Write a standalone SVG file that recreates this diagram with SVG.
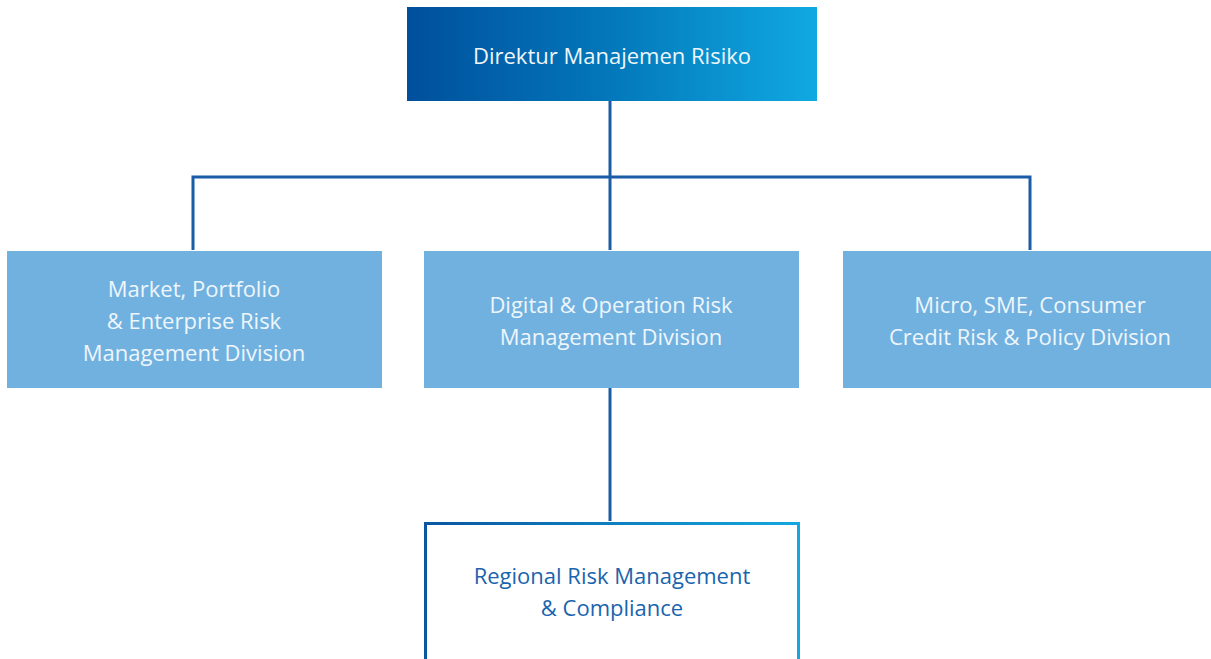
<svg xmlns="http://www.w3.org/2000/svg" width="1211" height="659" viewBox="0 0 1211 659">
<defs>
<linearGradient id="gTop" x1="0" y1="0" x2="1" y2="0">
<stop offset="0" stop-color="#004f9c"/>
<stop offset="0.5" stop-color="#0378bb"/>
<stop offset="1" stop-color="#10a9e1"/>
</linearGradient>
<linearGradient id="gBorder" x1="424" y1="0" x2="800" y2="0" gradientUnits="userSpaceOnUse">
<stop offset="0" stop-color="#0a56a0"/>
<stop offset="1" stop-color="#14a8e0"/>
</linearGradient>
<style>
.div{fill:#71b1e0}
.wt{fill:#eef6fc;font-family:"Open Sans","Noto Sans",sans-serif;font-size:22px;text-anchor:middle}
.bt{fill:#1a64ad;font-family:"Open Sans","Noto Sans",sans-serif;font-size:22px;text-anchor:middle}
.conn{fill:none;stroke:#1a5ca6;stroke-width:3}
</style>
</defs>
<g id="connectors">
<path class="conn" d="M610 101 V250"/>
<path class="conn" d="M193 250 V177 H1030 V250"/>
<path class="conn" d="M610 388 V521"/>
</g>
<g id="direktur">
<rect x="407" y="7" width="410" height="94" fill="url(#gTop)"/>
<text class="wt" x="612" y="64">Direktur Manajemen Risiko</text>
</g>
<g id="market">
<rect class="div" x="7" y="251" width="375" height="137"/>
<text class="wt" x="194" y="297">Market, Portfolio</text>
<text class="wt" x="194" y="329">&amp; Enterprise Risk</text>
<text class="wt" x="194" y="361">Management Division</text>
</g>
<g id="digital">
<rect class="div" x="424" y="251" width="375" height="137"/>
<text class="wt" x="611" y="313">Digital &amp; Operation Risk</text>
<text class="wt" x="611" y="345">Management Division</text>
</g>
<g id="micro">
<rect class="div" x="843" y="251" width="368" height="137"/>
<text class="wt" x="1030" y="313">Micro, SME, Consumer</text>
<text class="wt" x="1030" y="345">Credit Risk &amp; Policy Division</text>
</g>
<g id="regional">
<rect x="425.5" y="523.5" width="373" height="137" fill="#fff" stroke="url(#gBorder)" stroke-width="3"/>
<text class="bt" x="612" y="584">Regional Risk Management</text>
<text class="bt" x="612" y="616">&amp; Compliance</text>
</g>
</svg>
